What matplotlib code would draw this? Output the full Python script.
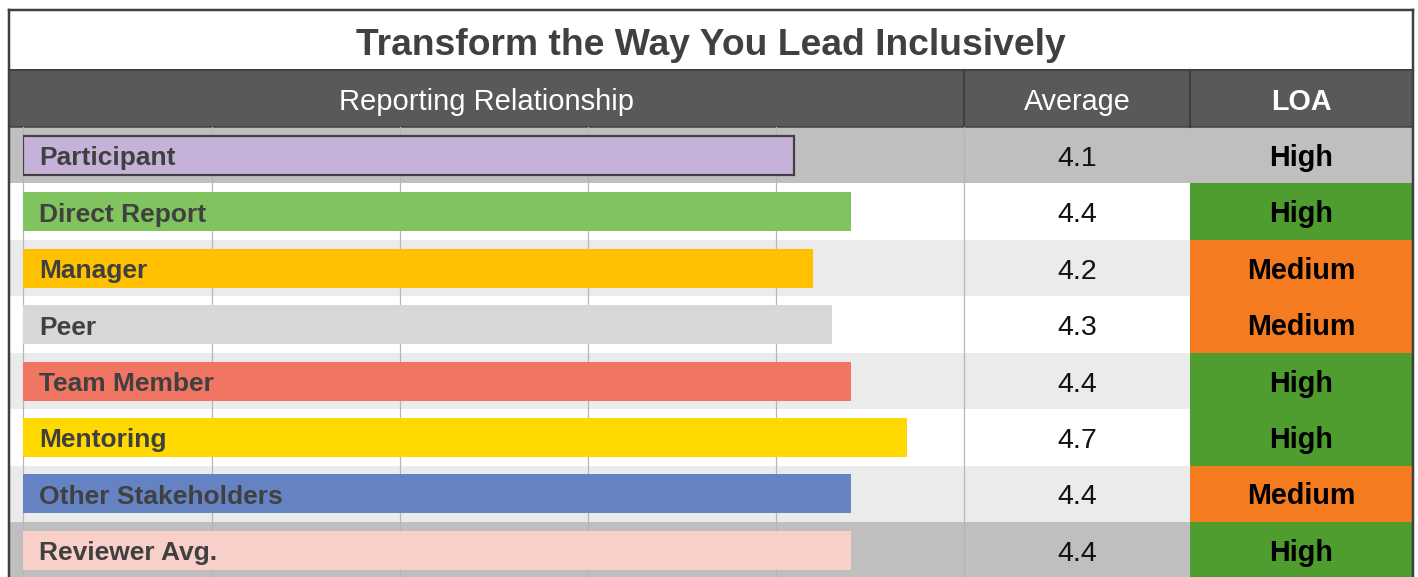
import matplotlib
matplotlib.use("Agg")
import matplotlib.pyplot as plt
from matplotlib.patches import Rectangle

# ---------------- data ----------------
title = "Transform the Way You Lead Inclusively"
headers = ["Reporting Relationship", "Average", "LOA"]
categories = ["Participant", "Direct Report", "Manager", "Peer", "Team Member",
              "Mentoring", "Other Stakeholders", "Reviewer Avg."]
averages = [4.1, 4.4, 4.2, 4.3, 4.4, 4.7, 4.4, 4.4]
loa = ["High", "High", "Medium", "Medium", "High", "High", "Medium", "High"]
x_ticks = [0, 1, 2, 3, 4, 5]

# ---------------- style ----------------
bar_colors = ["#c6b2d8", "#80c35f", "#ffc000", "#d8d8da", "#f07563",
              "#ffd900", "#6583c3", "#f8cfc9"]
band_colors = ["#bfbfbf", "#ffffff", "#ebebeb", "#ffffff", "#ebebeb",
               "#ffffff", "#ebebeb", "#bfbfbf"]
loa_colors = {"High": "#4f9d2f", "Medium": "#f47b20"}
dark = "#404040"
header_bg = "#595959"
grid_c = "#b5b5b5"
FONT = ["Liberation Sans", "DejaVu Sans"]

W, H, DPI = 1418, 577, 100
L, R, T = 9, 1413, 10
title_bottom = 70
header_bottom = 127
row_h = 56.45
col1, col2 = 964, 1190
x0, unit = 23.5, 188.0

fig = plt.figure(figsize=(W / DPI, H / DPI), dpi=DPI)
fig.patch.set_facecolor("white")

bg = fig.add_axes([0, 0, 1, 1])
bg.set_xlim(0, W)
bg.set_ylim(H, 0)
bg.axis("off")
bg.set_zorder(0)

px = 72.0 / DPI  # points per pixel

# title band
bg.add_patch(Rectangle((L, T), R - L, title_bottom - T, facecolor="white", edgecolor="none"))
bg.text((L + R) / 2, 55, title, ha="center", va="baseline", fontsize=26.8,
        fontweight="bold", color=dark, family=FONT)

# header band
bg.add_patch(Rectangle((L, title_bottom), R - L, header_bottom - title_bottom,
                       facecolor=header_bg, edgecolor="none"))
col_edges = [L, col1, col2, R]
header_weights = ["normal", "normal", "bold"]
for j, htxt in enumerate(headers):
    cx = (col_edges[j] + col_edges[j + 1]) / 2
    bg.text(cx, 110, htxt, ha="center", va="baseline", fontsize=21 if j == 0 else 20.7,
            fontweight=header_weights[j], color="white", family=FONT)
for xc in (col1, col2):
    bg.plot([xc, xc], [title_bottom, header_bottom], color=dark, lw=2.2 * px)
bg.plot([L, R], [title_bottom, title_bottom], color=dark, lw=2 * px)
bg.plot([L, R], [header_bottom, header_bottom], color=dark, lw=1.5 * px)

# row bands, averages, LOA cells
n = len(categories)
for i in range(n):
    y_top = header_bottom + i * row_h
    yc = y_top + row_h / 2
    bg.add_patch(Rectangle((L, y_top), R - L, row_h, facecolor=band_colors[i],
                           edgecolor="none", zorder=0))
    if i > 0:
        bg.add_patch(Rectangle((col2, y_top), R - col2, row_h,
                               facecolor=loa_colors[loa[i]], edgecolor="none", zorder=1))
    base = yc + 10.5
    bg.text((col1 + col2) / 2, base, f"{averages[i]:.1f}", ha="center", va="baseline",
            fontsize=20.5, color="#111111", family=FONT, zorder=3)
    bg.text((col2 + R) / 2, base, loa[i], ha="center", va="baseline",
            fontsize=20.7, fontweight="bold", color="#000000", family=FONT, zorder=3)

# outer border
bg.plot([L, L], [T, H], color=dark, lw=2.5 * px, zorder=5)
bg.plot([R, R], [T, H], color=dark, lw=2.5 * px, zorder=5)
bg.plot([L, R], [T, T], color=dark, lw=2.5 * px, zorder=5)

# ---------------- bar axes ----------------
bar_top = header_bottom
bar_bot = header_bottom + n * row_h
ax = fig.add_axes([x0 / W, 1 - bar_bot / H, 5 * unit / W, (bar_bot - bar_top) / H])
ax.set_zorder(1)
ax.patch.set_alpha(0)
ax.set_xlim(0, 5)
ax.set_ylim(n - 0.5, -0.5)
ax.set_xticks(x_ticks)
ax.set_yticks([])
ax.tick_params(axis="x", length=0, labelbottom=False)
for s in ax.spines.values():
    s.set_visible(False)
ax.grid(axis="x", color=grid_c, lw=1.2 * px)
ax.set_axisbelow(True)
for g in ax.get_xgridlines():
    g.set_clip_on(False)

bars = ax.barh(range(n), averages, height=0.69, color=bar_colors, zorder=2)
bars[0].set_edgecolor(dark)
bars[0].set_linewidth(2.2 * px)

# category labels drawn on top of the bars (inside the bar axes)
for i, cat in enumerate(categories):
    yc = header_bottom + (i + 0.5) * row_h
    ax.text(39, yc + 10, cat, ha="left", va="baseline", fontsize=19,
            fontweight="bold", color=dark, family=FONT, zorder=4,
            transform=bg.transData, clip_on=False)

fig.savefig("out.png", dpi=DPI)
